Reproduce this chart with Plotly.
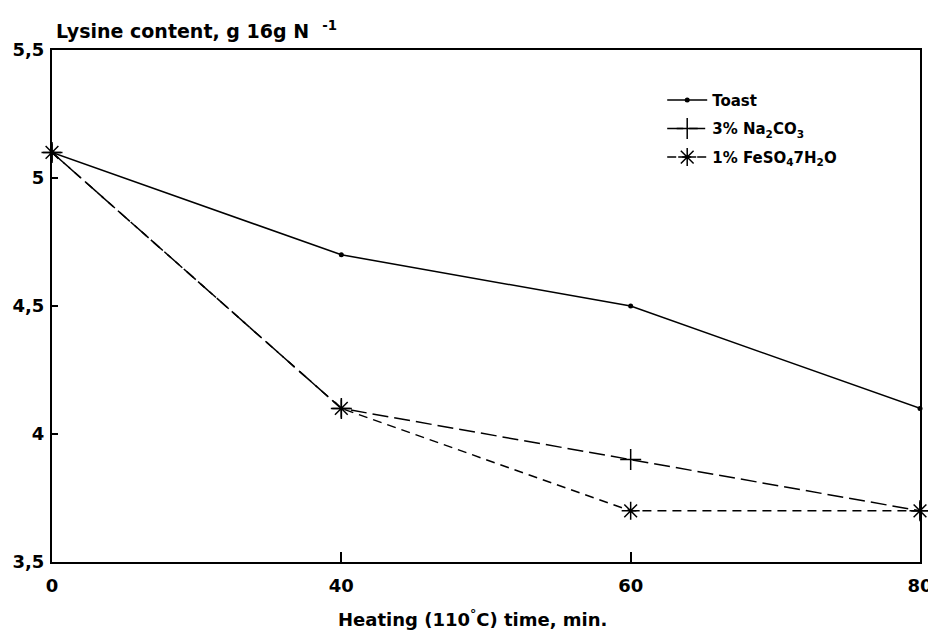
import plotly.graph_objects as go

times = ["0", "40", "60", "80"]
toast = [5.1, 4.7, 4.5, 4.1]
na2co3 = [5.1, 4.1, 3.9, 3.7]
feso4 = [5.1, 4.1, 3.7, 3.7]
y_ticks = [3.5, 4, 4.5, 5, 5.5]
y_tick_labels = ["3,5", "4", "4,5", "5", "5,5"]

FONT = "DejaVu Sans"
fig = go.Figure()
fig.add_trace(go.Scatter(
    x=times, y=toast, name="Toast", mode="lines+markers", legendgroup="a",
    line=dict(color="black", width=1.5),
    marker=dict(symbol="circle", size=5, color="black"),
    cliponaxis=False))
fig.add_trace(go.Scatter(
    x=times, y=na2co3, name="3% Na<sub>2</sub>CO<sub>3</sub>", mode="lines+markers", legendgroup="b",
    line=dict(color="black", width=1.5, dash="16px,6px"),
    marker=dict(symbol="cross-thin-open", size=15, line=dict(color="black", width=1.5)),
    cliponaxis=False))
fig.add_trace(go.Scatter(
    x=times, y=feso4, name="1% FeSO<sub>4</sub>7H<sub>2</sub>O", mode="lines+markers", legendgroup="c",
    line=dict(color="black", width=1.5, dash="9px,6px"),
    marker=dict(symbol="asterisk-open", size=15, line=dict(color="black", width=1.5)),
    cliponaxis=False))

fig.update_layout(
    width=928, height=626,
    margin=dict(l=44, r=16, t=42, b=72),
    paper_bgcolor="white", plot_bgcolor="white",
    font=dict(family=FONT, color="black", size=14, weight="bold"),
    showlegend=True,
    legend=dict(x=0.703, y=0.934, xanchor="left", yanchor="top",
                bgcolor="rgba(0,0,0,0)", font=dict(size=15, weight="bold", family=FONT),
                tracegroupgap=6, itemwidth=40),
    xaxis=dict(type="category", range=[0, 3], showgrid=False, zeroline=False, automargin=False,
               showline=True, linecolor="black", linewidth=2, mirror=True,
               ticks="inside", ticklen=10, tickwidth=2, tickcolor="black",
               ticklabelstandoff=6,
               tickfont=dict(size=18, weight="bold", family=FONT)),
    yaxis=dict(range=[3.5, 5.5], tickvals=y_ticks, ticktext=y_tick_labels, automargin=False,
               showgrid=False, zeroline=False,
               showline=True, linecolor="black", linewidth=2, mirror=True,
               ticks="inside", ticklen=6, tickwidth=2, tickcolor="black",
               ticklabelstandoff=2,
               tickfont=dict(size=18, weight="bold", family=FONT)),
    annotations=[
        dict(text="Lysine content, g 16g N  <sup>-1</sup>", xref="paper", yref="paper",
             x=0, y=1, xshift=2, yshift=6, xanchor="left", yanchor="bottom",
             showarrow=False, font=dict(size=19, weight="bold", family=FONT)),
        dict(text="Heating (110<sup>°</sup>C) time, min.", xref="paper", yref="paper",
             x=0.484, y=0, yshift=-56, xanchor="center", yanchor="middle",
             showarrow=False, font=dict(size=18, weight="bold", family=FONT)),
    ],
)
fig.write_html("out.html")
